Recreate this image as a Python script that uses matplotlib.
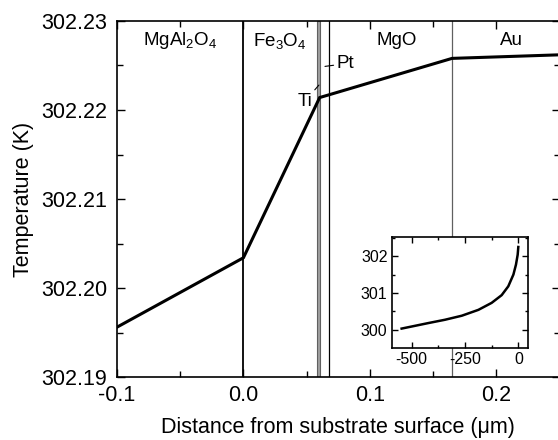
import matplotlib
matplotlib.use("Agg")
import matplotlib.pyplot as plt
from matplotlib.ticker import MultipleLocator

plt.rcParams['font.family'] = ['Liberation Sans', 'DejaVu Sans']
plt.rcParams['mathtext.fontset'] = 'custom'
plt.rcParams['mathtext.rm'] = 'Liberation Sans'
plt.rcParams['mathtext.it'] = 'Liberation Sans'
plt.rcParams['axes.unicode_minus'] = False

# main profile
dist = [-0.1, 0.0, 0.0603, 0.0675, 0.165, 0.25]
temp = [302.1956, 302.2034, 302.2214, 302.2217, 302.2258, 302.2262]

# layer boundaries
b_sub = 0.0
b_ti = (0.0585, 0.0608)
b_pt = 0.0675
b_au = 0.165

layer_names = ["MgAl$_2$O$_4$", "Fe$_3$O$_4$", "MgO", "Au"]
layer_x = [-0.05, 0.029, 0.121, 0.212]

# inset profile
in_x = [-547, -422, -344, -265, -187, -125, -78, -47, -23, -11, -3, 0]
in_y = [300.03, 300.18, 300.27, 300.38, 300.54, 300.73, 300.94, 301.18, 301.5, 301.77, 302.04, 302.25]

fig = plt.figure(figsize=(5.58, 4.40), dpi=100)
W, H = 558, 440
ax = fig.add_axes([117 / W, (H - 377) / H, (559.5 - 117) / W, (377 - 21) / H])

ax.axvline(b_sub, color='black', lw=1.3)
ax.axvspan(b_ti[0], b_ti[1], facecolor='#a0a0a0', edgecolor='#606060', lw=0.8)
ax.axvline(b_pt, color='black', lw=0.9)
ax.axvline(b_au, color='#606060', lw=0.9)

ax.plot(dist, temp, color='black', lw=2.2, solid_joinstyle='miter', zorder=5)

ax.set_xlim(-0.1, 0.25)
ax.set_ylim(302.19, 302.23)
ax.xaxis.set_major_locator(MultipleLocator(0.1))
ax.xaxis.set_minor_locator(MultipleLocator(0.05))
ax.yaxis.set_major_locator(MultipleLocator(0.01))
ax.yaxis.set_minor_locator(MultipleLocator(0.005))
ax.xaxis.set_major_formatter(plt.FuncFormatter(lambda v, p: f"{v:.1f}"))
ax.yaxis.set_major_formatter(plt.FuncFormatter(lambda v, p: f"{v:.2f}"))
ax.tick_params(which='both', direction='in', top=True, right=True, labelsize=15.5, width=1)
ax.tick_params(which='major', length=6)
ax.tick_params(axis='x', which='major', pad=6)
ax.tick_params(axis='y', which='major', pad=7)
ax.tick_params(which='minor', length=4)
for s in ax.spines.values():
    s.set_linewidth(1.2)

ax.set_xlabel("Distance from substrate surface (μm)", fontsize=15.5, labelpad=8)
ax.set_ylabel("Temperature (K)", fontsize=15.5, labelpad=5)

for name, x in zip(layer_names, layer_x):
    ax.text(x, 302.2278, name, ha='center', va='center', fontsize=13.5)

ax.annotate("Ti", xy=(0.0597, 302.2228), xytext=(0.0545, 302.2210),
            ha='right', va='center', fontsize=13.5,
            arrowprops=dict(arrowstyle='-', lw=0.8, color='black', shrinkA=0, shrinkB=0))
ax.annotate("Pt", xy=(0.0645, 302.2249), xytext=(0.0735, 302.2252),
            ha='left', va='center', fontsize=13.5,
            arrowprops=dict(arrowstyle='-', lw=0.8, color='black', shrinkA=0, shrinkB=0))

# inset
ins = fig.add_axes([391.7 / W, (H - 347.7) / H, (527.7 - 391.7) / W, (347.7 - 236.7) / H])
ins.plot(in_x, in_y, color='black', lw=1.8)
ins.set_xlim(-593.5, 44)
ins.set_ylim(299.51, 302.53)
ins.set_xticks([-500, -250, 0])
ins.set_yticks([300, 301, 302])
ins.xaxis.set_minor_locator(MultipleLocator(125))
ins.yaxis.set_minor_locator(MultipleLocator(0.5))
ins.tick_params(which='both', direction='in', top=True, right=True, labelsize=11.5, width=1, pad=3)
ins.tick_params(which='major', length=4)
ins.tick_params(which='minor', length=2.5)
for s in ins.spines.values():
    s.set_linewidth(1.2)

fig.savefig("out.png", dpi=100)
